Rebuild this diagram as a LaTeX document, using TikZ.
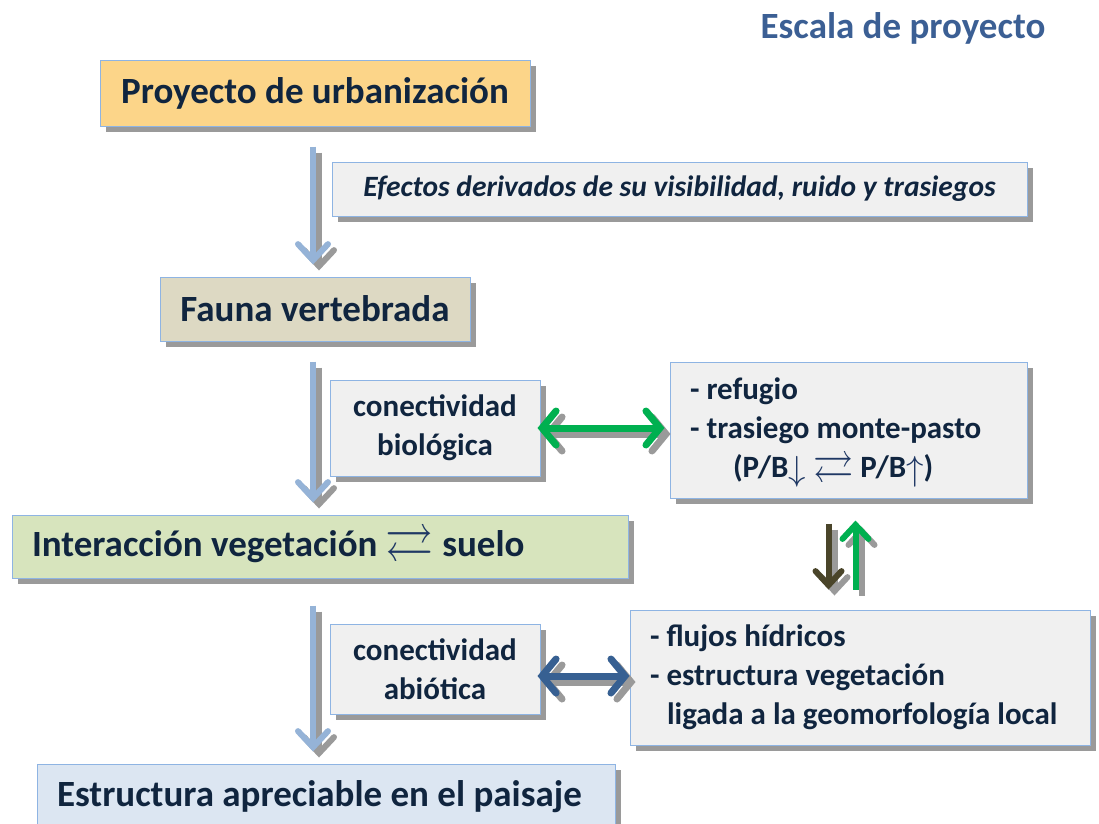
\documentclass[tikz,border=0pt]{standalone}
\usepackage{amssymb}
\usepackage{fontspec}
\setmainfont{Carlito}
\usetikzlibrary{arrows.meta,shadows}

\definecolor{texto}{HTML}{10253F}
\definecolor{titulo}{HTML}{3B5F94}
\definecolor{borde}{HTML}{8EB4E3}
\definecolor{sombragris}{HTML}{9A9A9A}
\definecolor{naranja}{HTML}{FCD589}
\definecolor{beige}{HTML}{DDD9C3}
\definecolor{verdeclaro}{HTML}{D7E4BD}
\definecolor{azulclaro}{HTML}{DCE6F2}
\definecolor{grisclaro}{HTML}{F0F0F0}
\definecolor{flechaazul}{HTML}{95B3D7}
\definecolor{verde}{HTML}{00B050}
\definecolor{azuloscuro}{HTML}{376092}
\definecolor{oliva}{HTML}{4A452A}
\definecolor{navy}{HTML}{1F3864}

\newcommand{\equil}{{\color{navy}\smash{\raisebox{-5pt}{\scalebox{1.3}[1.5]{$\rightleftarrows$}}}}}
\newcommand{\baja}{{\color{navy}\smash{\raisebox{-3pt}{\scalebox{1.4}[1.4]{$\downarrow$}}}}}
\newcommand{\sube}{{\color{navy}\smash{\raisebox{-3pt}{\scalebox{1.4}[1.4]{$\uparrow$}}}}}

\tikzset{
  caja/.style={draw=borde, line width=1pt, text=texto, font=\bfseries,
    drop shadow={shadow xshift=6pt, shadow yshift=-6pt, fill=sombragris, opacity=1}},
  grande/.style={font=\fontsize{37}{44}\selectfont\bfseries},
  chica/.style={font=\fontsize{31}{39}\selectfont\bfseries},
  sombra/.style={draw=sombragris, transform canvas={shift={(6pt,-6pt)}}},
  bajada/.style={draw=flechaazul, line width=6pt,
    -{Straight Barb[length=16pt, width=30pt, line width=6pt, line cap=round]},
    shorten <=20pt, shorten >=12pt},
  doble/.style={line width=7pt,
    {Straight Barb[length=14pt, width=34pt, line width=7pt, line cap=round]}-{Straight Barb[length=14pt, width=34pt, line width=7pt, line cap=round]}},
  vertical/.style={line width=6pt,
    -{Straight Barb[length=14pt, width=26pt, line width=6pt, line cap=round]}}
}

\begin{document}
\begin{tikzpicture}[x=1pt, y=-1pt]
\useasboundingbox (0,0) rectangle (1099,823);

\node (titulo) [text=titulo, grande] at (903,28) {Escala de proyecto};

\node (urb) [caja, grande, fill=naranja, minimum width=430pt, minimum height=66pt] at (315,93) {Proyecto de urbanizaci\'on};
\node (efectos) [caja, fill=grisclaro, font=\fontsize{29.5}{34}\selectfont\bfseries\itshape, minimum width=695pt, minimum height=54pt] at (679.5,189) {Efectos derivados de su visibilidad, ruido y trasiegos};
\node (fauna) [caja, grande, fill=beige, minimum width=310pt, minimum height=64pt] at (315,309) {Fauna vertebrada};
\node (biol) [caja, chica, fill=grisclaro, align=center, minimum width=210pt, minimum height=96pt] at (435,428) {conectividad\\biol\'ogica};
\node (refugio) [caja, chica, fill=grisclaro, align=flush left, text width=317pt, inner xsep=20pt, minimum height=136pt] at (848.5,430)
  {- refugio\\- trasiego monte-pasto\\\hspace*{43pt}(P/B\baja\ \equil\ P/B\sube)};
\node (inter) [caja, grande, fill=verdeclaro, align=flush left, text width=576pt, inner xsep=20pt, minimum height=63pt] at (320,546.5)
  {Interacci\'on vegetaci\'on \equil\ suelo};
\node (abio) [caja, chica, fill=grisclaro, align=center, minimum width=210pt, minimum height=90pt] at (435,669) {conectividad\\abi\'otica};
\node (flujos) [caja, chica, fill=grisclaro, align=flush left, text width=420pt, inner xsep=20pt, minimum height=135pt] at (860,677.5)
  {- flujos h\'idricos\\- estructura vegetaci\'on\\\hspace*{17pt}ligada a la geomorfolog\'ia local};
\node (estr) [caja, grande, fill=azulclaro, align=flush left, text width=538pt, inner xsep=20pt, minimum height=66pt] at (326,797) {Estructura apreciable en el paisaje};

% flechas principales
\draw [bajada, sombra] (313,0 |- urb.south) -- (313,0 |- fauna.north);
\draw [bajada] (313,0 |- urb.south) -- (313,0 |- fauna.north);
\draw [bajada, sombra] (313,0 |- fauna.south) -- (313,0 |- inter.north);
\draw [bajada] (313,0 |- fauna.south) -- (313,0 |- inter.north);
\draw [bajada, sombra, shorten <=27pt] (313,0 |- inter.south) -- (313,0 |- estr.north);
\draw [bajada, shorten <=27pt] (313,0 |- inter.south) -- (313,0 |- estr.north);

% conectividades
\draw [doble, sombra] ([xshift=-3pt]biol.east) -- ([xshift=-5pt]biol.east -| refugio.west);
\draw [doble, draw=verde] ([xshift=-3pt]biol.east) -- ([xshift=-5pt]biol.east -| refugio.west);
\draw [doble, sombra] ([xshift=-3pt,yshift=-7pt]abio.east) -- ([yshift=-7pt]abio.east -| flujos.west);
\draw [doble, draw=azuloscuro] ([xshift=-3pt,yshift=-7pt]abio.east) -- ([yshift=-7pt]abio.east -| flujos.west);
\draw [vertical, sombra, shorten <=25pt, shorten >=20pt] ([xshift=-20pt]refugio.south) -- ([xshift=-20pt]refugio.south |- flujos.north);
\draw [vertical, draw=oliva, shorten <=25pt, shorten >=20pt] ([xshift=-20pt]refugio.south) -- ([xshift=-20pt]refugio.south |- flujos.north);
\draw [vertical, sombra, shorten >=22pt, shorten <=20pt] ([xshift=7pt]refugio.south |- flujos.north) -- ([xshift=7pt]refugio.south);
\draw [vertical, draw=verde, shorten >=22pt, shorten <=20pt] ([xshift=7pt]refugio.south |- flujos.north) -- ([xshift=7pt]refugio.south);
\end{tikzpicture}
\end{document}
